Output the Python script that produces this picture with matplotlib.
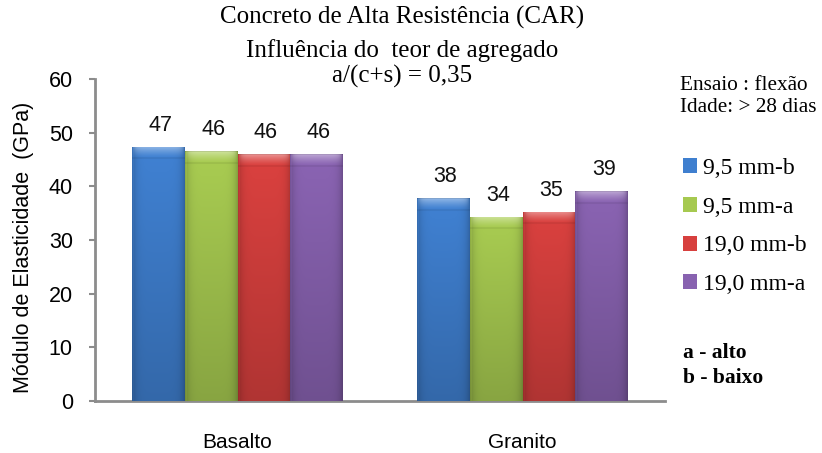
import numpy as np
import matplotlib
matplotlib.use("Agg")
import matplotlib.pyplot as plt
from matplotlib.colors import to_rgb

# Data
categories = ["Basalto", "Granito"]
series_names = ["9,5 mm-b", "9,5 mm-a", "19,0 mm-b", "19,0 mm-a"]
values_9_5_b = [47.4, 37.8]
values_9_5_a = [46.5, 34.3]
values_19_0_b = [46.0, 35.3]
values_19_0_a = [46.0, 39.1]
series_values = [values_9_5_b, values_9_5_a, values_19_0_b, values_19_0_a]
series_colors = ["#3f7fcf", "#a6c950", "#d7403e", "#8862b0"]
yticks = [0, 10, 20, 30, 40, 50, 60]

SANS = ["Liberation Sans", "DejaVu Sans"]
SERIF = ["Liberation Serif", "DejaVu Serif"]

W, H = 822, 453
fig = plt.figure(figsize=(W / 100, H / 100), dpi=100)
ax = fig.add_axes([95 / W, 1 - 401 / H, 570 / W, 322 / H])

n = len(series_values)
bar_w = 0.185
x = np.arange(len(categories))


def shaded_image(color, nrows, ncols, top_rows):
    """Bevelled fill: darker sides and bottom, bright rounded top band."""
    base = np.array(to_rgb(color))
    u = np.linspace(0, 1, ncols)
    t = np.linspace(0, 1, nrows)
    side = 1.0 - 0.20 * np.abs(2 * u - 1) ** 6
    side[:2] *= 1.08
    vert = 1.02 - 0.2 * t
    img = base[None, None, :] * side[None, :, None] * vert[:, None, None]
    # top bevel highlight
    r = np.arange(nrows)
    band = np.clip(1 - r / max(top_rows, 1), 0, 1) ** 1.3
    inner = 1.0 - 0.9 * np.abs(2 * u - 1) ** 10
    hl = band[:, None] * inner[None, :] * 0.42
    img = img + (1 - img) * hl[:, :, None]
    img[:1] *= 0.9
    if top_rows < nrows:
        img[top_rows:top_rows + 2] *= 0.94
    return np.clip(img, 0, 1)


bars_all = []
for i, (vals, col) in enumerate(zip(series_values, series_colors)):
    pos = x + (i - (n - 1) / 2) * bar_w
    bars = ax.bar(pos, vals, width=bar_w, color=col, edgecolor="none",
                  zorder=2, label=series_names[i])
    bars_all.append(bars)
    for rect, v in zip(bars, vals):
        x0 = rect.get_x()
        x1 = x0 + rect.get_width()
        nrows = int(v * 5.37)
        img = shaded_image(col, nrows, 53, 11)
        im = ax.imshow(img, extent=[x0, x1, 0, v], aspect="auto",
                       origin="upper", zorder=3, interpolation="bilinear")
        im.set_clip_path(rect)
        ax.annotate(f"{v:.0f}", (rect.get_x() + rect.get_width() / 2, v),
                    xytext=(1.5, 11.5), textcoords="offset points",
                    ha="center", va="baseline", fontsize=15.5,
                    family=SANS, color="#111111")

ax.set_xlim(-0.5, 1.5)
ax.set_ylim(0, 60)
ax.set_yticks(yticks)
ax.set_yticklabels([str(t) for t in yticks], family=SANS, fontsize=15.5)
ax.set_xticks(x)
ax.set_xticklabels(categories, family=SANS, fontsize=15)
ax.tick_params(axis="x", length=0, pad=23)
ax.tick_params(axis="y", length=4.5, width=1.5, color="#8c8c8c", pad=11.5)
for s in ["top", "right"]:
    ax.spines[s].set_visible(False)
for s in ["left", "bottom"]:
    ax.spines[s].set_color("#8c8c8c")
    ax.spines[s].set_linewidth(2)

fig.text(24 / W, 1 - 247 / H, "Módulo de Elasticidade  (GPa)", rotation=90,
         ha="center", va="center", family=SANS, fontsize=15.5)

# Title block
tx = 402 / W
fig.text(tx, 1 - 24 / H, "Concreto de Alta Resistência (CAR)", ha="center",
         va="baseline", family=SERIF, fontsize=18)
fig.text(tx, 1 - 56.5 / H, "Influência do  teor de agregado", ha="center",
         va="baseline", family=SERIF, fontsize=18)
fig.text(tx, 1 - 83 / H, "a/(c+s) = 0,35", ha="center",
         va="baseline", family=SERIF, fontsize=18)

# Side notes
fig.text(680 / W, 1 - 86 / H, "Ensaio : flexão", ha="left", va="center",
         family=SERIF, fontsize=15.3)
fig.text(680 / W, 1 - 107 / H, "Idade: > 28 dias", ha="left", va="center",
         family=SERIF, fontsize=15.3)

leg = fig.legend(handles=[b[0] for b in bars_all], labels=series_names,
                 loc="upper left", bbox_to_anchor=(683 / W, 1 - 158 / H),
                 frameon=False, prop={"family": SERIF, "size": 17},
                 handlelength=0.6, handleheight=0.6, handletextpad=0.25,
                 labelspacing=0.75, borderaxespad=0, borderpad=0)

fig.text(683 / W, 1 - 353 / H, "a - alto", ha="left", va="center",
         family=SERIF, fontsize=15.5, fontweight="bold")
fig.text(683 / W, 1 - 378 / H, "b - baixo", ha="left", va="center",
         family=SERIF, fontsize=15.5, fontweight="bold")

fig.savefig("out.png", dpi=100)
